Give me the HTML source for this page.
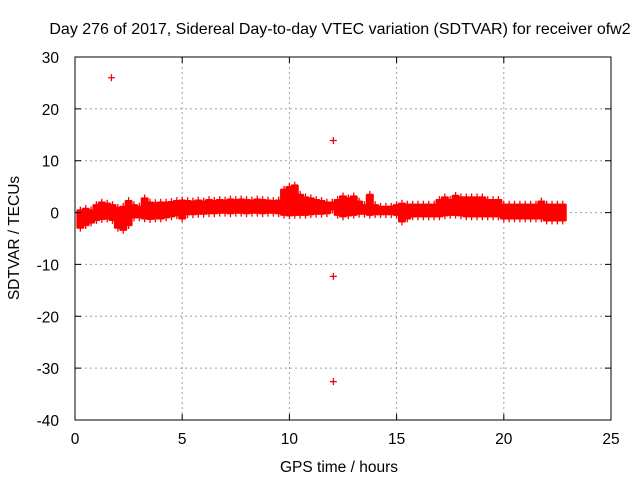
<!DOCTYPE html>
<html><head><meta charset="utf-8"><style>
body{margin:0;background:#fff}
svg{display:block;font-family:"Liberation Sans",sans-serif}
</style></head><body>
<svg id="chart" width="640" height="480" viewBox="0 0 640 480"></svg>
<script>
const xTicks=[0,5,10,15,20,25];
const yTicks=[-40,-30,-20,-10,0,10,20,30];
const bandHours=[0.25,0.5,0.75,1,1.25,1.5,1.75,2,2.25,2.5,2.75,3,3.25,3.5,3.75,4,4.25,4.5,4.75,5,5.25,5.5,5.75,6,6.25,6.5,6.75,7,7.25,7.5,7.75,8,8.25,8.5,8.75,9,9.25,9.5,9.75,10,10.25,10.5,10.75,11,11.25,11.5,11.75,12,12.25,12.5,12.75,13,13.25,13.5,13.75,14,14.25,14.5,14.75,15,15.25,15.5,15.75,16,16.25,16.5,16.75,17,17.25,17.5,17.75,18,18.25,18.5,18.75,19,19.25,19.5,19.75,20,20.25,20.5,20.75,21,21.25,21.5,21.75,22,22.25,22.5,22.75];
const bandLow=[-3,-2.5,-2,-1.5,-1.3,-1.2,-1.5,-3,-3.4,-2.5,-1,-1,-1.2,-1.3,-1.2,-1.2,-1,-0.8,-0.6,-1.2,-0.4,-0.4,-0.3,-0.3,-0.2,-0.2,-0.1,-0.1,-0.2,-0.1,-0.1,-0.2,-0.1,-0.1,-0.2,-0.1,-0.1,-0.2,-0.5,-0.6,-0.5,-0.5,-0.5,-0.4,-0.3,-0.3,-0.2,0.5,-0.5,-0.8,-0.6,-0.5,-0.3,-0.3,-0.5,-0.4,-0.4,-0.4,-0.4,-0.5,-1.8,-1.2,-0.8,-0.8,-0.8,-0.8,-0.8,-0.8,-0.6,-0.5,-0.5,-0.6,-0.8,-0.8,-0.8,-0.8,-0.8,-0.8,-0.8,-1.2,-1.2,-1.2,-1.2,-1.2,-1.2,-1.2,-1.2,-1.6,-1.6,-1.6,-1.6];
const bandHigh=[0.5,0.8,0.5,1.5,2,1.8,1.5,1,1.2,2.3,1.5,1.2,2.8,2,1.9,2,2,2.1,2.3,2.4,2.3,2.2,2.4,2.2,2.5,2.3,2.5,2.4,2.6,2.5,2.6,2.5,2.4,2.6,2.5,2.4,2.3,2.4,4.5,5,5.3,3.5,3,2.8,2.5,2.3,2,2,2.5,3.2,2.8,3.2,2.2,1.5,3.5,1.5,1.2,1.2,1.2,1.5,1.8,1.6,1.6,1.6,1.6,1.6,1.6,2.5,3,2.5,3.3,3,3,3,3,3,2.5,2.5,2.5,1.6,1.6,1.6,1.6,1.6,1.6,1.6,2.2,1.6,1.6,1.6,1.6];
const outlierHours=[1.7,12.05,12.05,12.05];
const outlierValues=[26,13.9,-12.3,-32.6];

const NS='http://www.w3.org/2000/svg';
const svg=document.getElementById('chart');
const L=75,R=611,T=57,B=420;
const xS=v=>L+(v-0)/(25-0)*(R-L);
const yS=v=>B-(v+40)/(70)*(B-T);
function mk(tag,attrs,parent){const e=document.createElementNS(NS,tag);for(const k in attrs)e.setAttribute(k,attrs[k]);(parent||svg).appendChild(e);return e;}

const grid=mk('g',{});


xTicks.forEach(t=>{if(t>0&&t<25){const l=mk('line',{x1:xS(t),x2:xS(t),y1:T,y2:B,stroke:'#a0a0a0','stroke-dasharray':'2,3'},grid);

}});
yTicks.forEach(t=>{if(t>-40&&t<30){const l=mk('line',{x1:L,x2:R,y1:yS(t),y2:yS(t),stroke:'#a0a0a0','stroke-dasharray':'2,3'},grid);

}});

const band=mk('g',{stroke:'#ff0000','stroke-width':1.3,fill:'#ff0000'});


bandHours.forEach((h,i)=>{
  const x=xS(h),y1=yS(bandHigh[i]),y2=yS(bandLow[i]);
  const r=mk('rect',{x:x-4,y:y1,width:8,height:Math.max(1,y2-y1),stroke:'none'},band);
  
  
  [bandHigh[i],bandLow[i]].forEach(v=>{
    const p=mk('path',{d:`M${x-3.5} ${yS(v)}h7M${x} ${yS(v)-3.5}v7`,fill:'none'},band);
    
    
  });
});
outlierHours.forEach((h,i)=>{
  const x=xS(h),y=yS(outlierValues[i]);
  const p=mk('path',{d:`M${x-3.5} ${y}h7M${x} ${y-3.5}v7`,fill:'none'},band);
  
  
});

const border=mk('rect',{x:L,y:T,width:R-L,height:B-T,fill:'none',stroke:'#000','stroke-width':1});



xTicks.forEach(t=>{
  const x=xS(t);
  mk('path',{d:`M${x} ${B}v-6M${x} ${T}v6`,stroke:'#000'});
  const tx=mk('text',{x:x,y:B+24,'text-anchor':'middle','font-size':15.5},svg);tx.textContent=t;
  
  
});
yTicks.forEach(t=>{
  const y=yS(t);
  mk('path',{d:`M${L} ${y}h6M${R} ${y}h-6`,stroke:'#000'});
  const tx=mk('text',{x:L-16,y:y+6,'text-anchor':'end','font-size':15.5},svg);tx.textContent=t;
  
  
});

const title=mk('text',{x:340,y:34,'text-anchor':'middle','font-size':16});
title.textContent='Day 276 of 2017, Sidereal Day-to-day VTEC variation (SDTVAR) for receiver ofw2';


const xl=mk('text',{x:339,y:472,'text-anchor':'middle','font-size':15.5});
xl.textContent='GPS time / hours';


const yl=mk('text',{x:0,y:0,'text-anchor':'middle','font-size':15.5,transform:'translate(19,238) rotate(-90)'});
yl.textContent='SDTVAR / TECUs';


</script>
</body></html>
